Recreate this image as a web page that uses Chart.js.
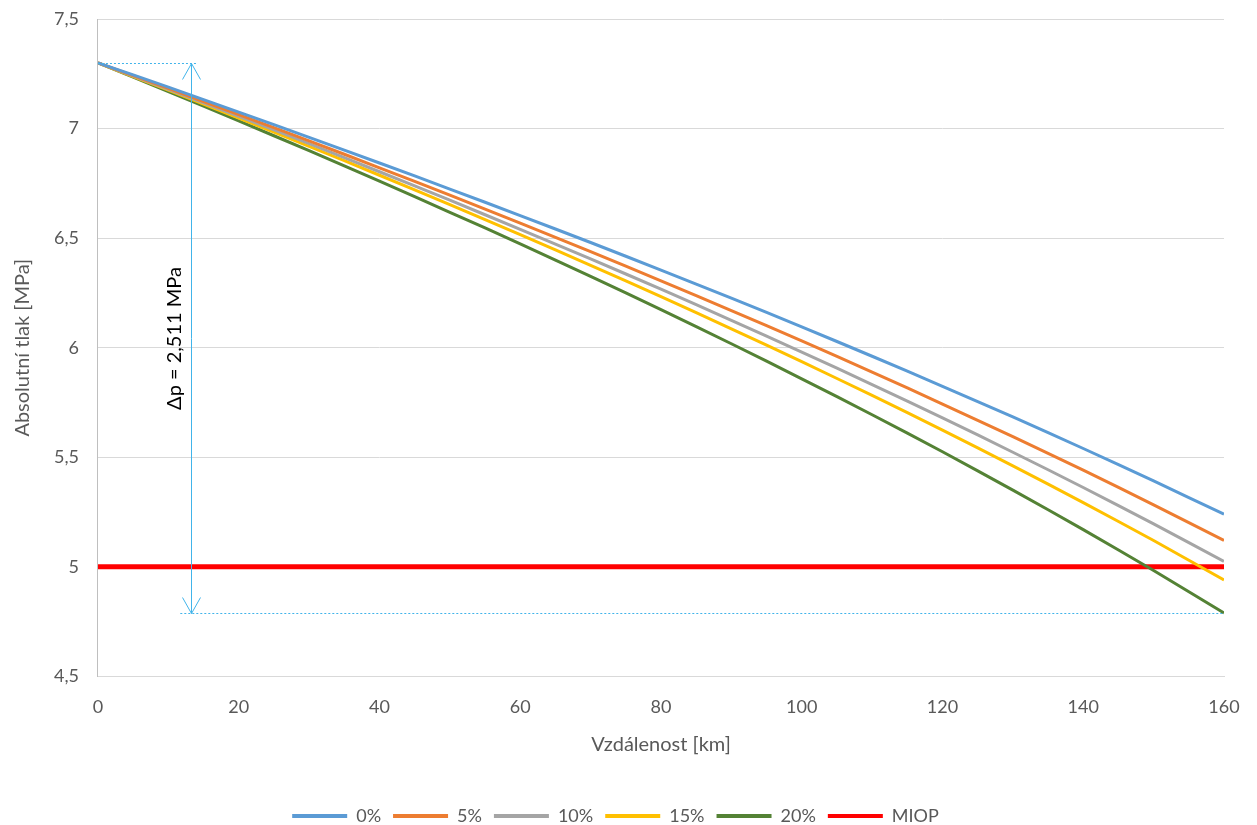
<!DOCTYPE html>
<html>
<head>
<meta charset="utf-8">
<script src="https://cdn.jsdelivr.net/npm/chart.js@4/dist/chart.umd.min.js"></script>
<style>
  html, body { margin: 0; padding: 0; background: #fff; }
  #wrap { width: 1257px; height: 825px; }
</style>
</head>
<body>
<div id="wrap"><canvas id="graf"></canvas></div>
<script>
// vzdálenost [km]
const km = [0, 10, 20, 30, 40, 50, 60, 70, 80, 90, 100, 110, 120, 130, 140, 150, 160];

// absolutní tlak [MPa]
const p0 = [7.30, 7.189, 7.075, 6.960, 6.843, 6.724, 6.603, 6.480, 6.354, 6.226, 6.095, 5.961, 5.824, 5.684, 5.540, 5.392, 5.240];
const p5 = [7.30, 7.183, 7.064, 6.944, 6.821, 6.696, 6.568, 6.438, 6.305, 6.169, 6.031, 5.889, 5.743, 5.594, 5.441, 5.283, 5.120];
const p10 = [7.30, 7.179, 7.056, 6.931, 6.803, 6.673, 6.540, 6.405, 6.267, 6.125, 5.980, 5.832, 5.680, 5.523, 5.362, 5.196, 5.025];
const p15 = [7.30, 7.175, 7.048, 6.919, 6.787, 6.653, 6.516, 6.376, 6.233, 6.086, 5.936, 5.782, 5.624, 5.461, 5.293, 5.120, 4.940];
const p20 = [7.30, 7.169, 7.035, 6.899, 6.760, 6.618, 6.474, 6.325, 6.174, 6.018, 5.858, 5.694, 5.525, 5.350, 5.170, 4.983, 4.789];

const miopKm = [0, 160];
const miop = [5, 5];

// anotace Δp
const dpX = 13.2;
const dpTop = 7.3;
const dpBottom = 4.789;
const dpText = "Δp = 2,511 MPa";

const yTicks = [4.5, 5, 5.5, 6, 6.5, 7, 7.5];

const pismo = "Lato, 'Open Sans', sans-serif";
const seda = "#595959";

function body2(xs, ys) {
  return xs.map((x, i) => ({ x: x, y: ys[i] }));
}

function serie(label, ys, barva, sirka) {
  return {
    label: label,
    data: body2(km, ys),
    borderColor: barva,
    backgroundColor: barva,
    borderWidth: sirka,
    pointRadius: 0,
    tension: 0.3,
    fill: false
  };
}

// šipka a tečkované čáry pro Δp
const anotace = {
  id: "anotace",
  afterDatasetsDraw(chart) {
    const { ctx, scales } = chart;
    const x = Math.round(scales.x.getPixelForValue(dpX)) + 0.5;
    const yT = Math.round(scales.y.getPixelForValue(dpTop)) + 0.5;
    const yB = Math.round(scales.y.getPixelForValue(dpBottom)) + 0.5;
    ctx.save();
    ctx.strokeStyle = "#41b4ea";
    ctx.lineWidth = 1;

    // tečkované vodorovné
    ctx.setLineDash([2, 2]);
    ctx.beginPath();
    ctx.moveTo(scales.x.getPixelForValue(0), yT);
    ctx.lineTo(scales.x.getPixelForValue(14.2), yT);
    ctx.moveTo(scales.x.getPixelForValue(11.7), yB);
    ctx.lineTo(scales.x.getPixelForValue(160), yB);
    ctx.stroke();

    // svislá šipka
    ctx.setLineDash([]);
    ctx.beginPath();
    ctx.moveTo(x, yT);
    ctx.lineTo(x, yB);
    ctx.moveTo(x - 9, yT + 16);
    ctx.lineTo(x, yT);
    ctx.lineTo(x + 9, yT + 16);
    ctx.moveTo(x - 9, yB - 16);
    ctx.lineTo(x, yB);
    ctx.lineTo(x + 9, yB - 16);
    ctx.stroke();

    // text
    ctx.translate(x - 17, (yT + yB) / 2);
    ctx.rotate(-Math.PI / 2);
    ctx.fillStyle = "#000";
    ctx.font = "20px " + pismo;
    ctx.textAlign = "center";
    ctx.textBaseline = "middle";
    ctx.fillText(dpText, 0, 0);
    ctx.restore();
  }
};

new Chart(document.getElementById("graf").getContext("2d"), {
  type: "line",
  data: {
    datasets: [
      serie("0%", p0, "#5b9bd5", 3),
      serie("5%", p5, "#ed7d31", 3),
      serie("10%", p10, "#a5a5a5", 3),
      serie("15%", p15, "#ffc000", 3),
      serie("20%", p20, "#548235", 3),
      {
        label: "MIOP",
        data: body2(miopKm, miop),
        borderColor: "#ff0000",
        backgroundColor: "#ff0000",
        borderWidth: 5,
        pointRadius: 0,
        fill: false
      }
    ]
  },
  options: {
    responsive: true,
    maintainAspectRatio: false,
    animation: false,
    layout: { padding: { top: 19, right: 33, left: 7, bottom: -10 } },
    plugins: {
      tooltip: { enabled: false },
      legend: {
        position: "bottom",
        labels: {
          boxWidth: 55,
          boxHeight: 4,
          padding: 12,
          color: seda,
          font: { family: pismo, size: 18 },
          generateLabels(chart) {
            const def = Chart.defaults.plugins.legend.labels.generateLabels(chart);
            return def.map(l => Object.assign(l, { lineWidth: 0 }));
          }
        }
      }
    },
    scales: {
      x: {
        type: "linear",
        min: 0,
        max: 160,
        grid: { display: false },
        border: { display: true, color: "#d9d9d9", width: 1 },
        ticks: {
          stepSize: 20,
          color: seda,
          font: { family: pismo, size: 18 },
          padding: 12
        },
        title: {
          display: true,
          text: "Vzdálenost [km]",
          color: seda,
          font: { family: pismo, size: 20 },
          padding: { top: 3, bottom: 38 }
        }
      },
      y: {
        type: "linear",
        min: 4.5,
        max: 7.5,
        afterBuildTicks(axis) {
          axis.ticks = yTicks.map(v => ({ value: v }));
        },
        afterFit(axis) {
          axis.paddingTop = 0;
          axis.paddingBottom = 0;
        },
        grid: { color: "#d9d9d9", lineWidth: 1, drawTicks: false },
        border: { display: true, color: "#bfbfbf", width: 1 },
        ticks: {
          color: seda,
          font: { family: pismo, size: 18 },
          padding: 19,
          callback: v => String(v).replace(".", ",")
        },
        title: {
          display: true,
          text: "Absolutní tlak [MPa]",
          color: seda,
          font: { family: pismo, size: 20 },
          padding: { bottom: 0 }
        }
      }
    }
  },
  plugins: [anotace]
});
</script>
</body>
</html>
